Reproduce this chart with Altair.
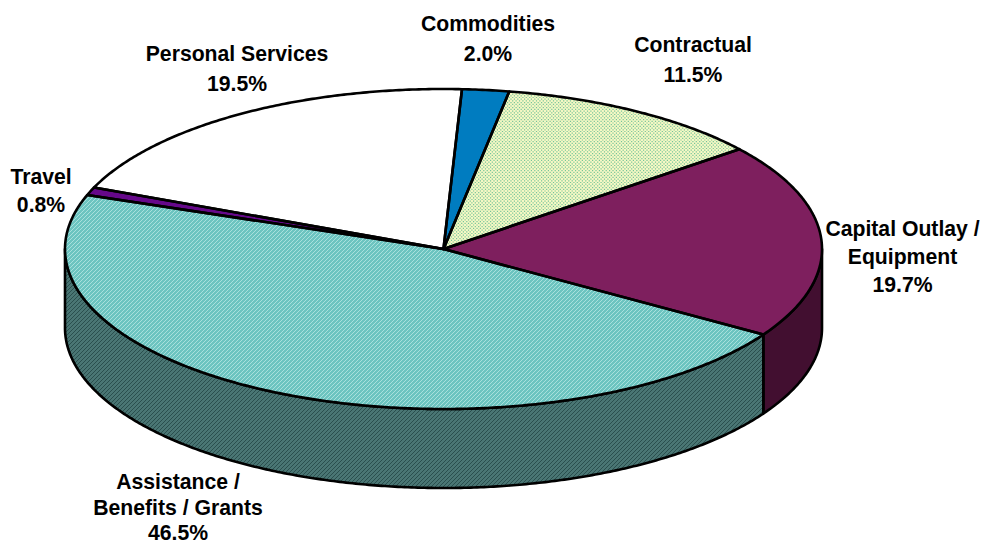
import math
import altair as alt

categories = ["Commodities", "Contractual", "Capital Outlay / Equipment",
              "Assistance / Benefits / Grants", "Travel", "Personal Services"]
shares = [2.0, 11.5, 19.7, 46.5, 0.8, 19.5]
label_names = ["Commodities", "Contractual", "Capital Outlay /\nEquipment",
               "Assistance /\nBenefits / Grants", "Travel", "Personal Services"]
top_colors = ["#007CC0", "#F6F8C4", "#7E1F5E", "#6CC4C0", "#66088A", "#FFFFFF"]
side_colors = ["#003E60", "#77795A", "#420F30", "#4A7674", "#330445", "#808080"]

# layout (chart pixels: page pixels minus the 8px margin)
W, H = 973, 537
CX, CY, RX, RY, DEPTH = 435.5, 241, 378.5, 160, 79
START_DEG = 2.8
LABEL_POS = {
    "Personal Services": (229, 47, 30),
    "Commodities": (480, 17, 30),
    "Contractual": (685, 38, 30),
    "Capital Outlay / Equipment": (894.5, 222, 28),
    "Assistance / Benefits / Grants": (170, 475, 25.5),
    "Travel": (33, 170, 28),
}


def pt(deg, dy=0.0):
    r = math.radians(deg)
    return [CX + RX * math.sin(r), CY - RY * math.cos(r) + dy]


def arc(a, b, dy=0.0):
    n = max(2, int(abs(b - a) * 2))
    return [pt(a + (b - a) * i / n, dy) for i in range(n + 1)]


sides = []
tops = []
spans = {}
acc = START_DEG
for name, share, tc, sc in zip(categories, shares, top_colors, side_colors):
    a, b = acc, acc + share * 3.6
    acc = b
    spans[name] = (a, b)
    # visible outer wall: the part of the rim on the front half (90..270 deg)
    lo, hi = max(a, 90), min(b, 270)
    if lo < hi:
        ring = arc(lo, hi) + arc(hi, lo, DEPTH)
        ring.append(ring[0])
        sides.append({"type": "Feature", "geometry": {"type": "Polygon", "coordinates": [ring]},
                      "properties": {"key": name + " side", "color": sc}})
    ring = [[CX, CY]] + arc(a, b) + [[CX, CY]]
    tops.append({"type": "Feature", "geometry": {"type": "Polygon", "coordinates": [ring]},
                 "properties": {"key": name, "color": tc}})


def in_wedge(x, y, span):
    u, v = (x - CX) / RX, (CY - y) / RY
    if u * u + v * v > 1:
        return False
    t = math.degrees(math.atan2(u, v)) % 360
    return span[0] <= t <= span[1] or span[0] <= t + 360 <= span[1]


def in_wall(x, y, span):
    u = (x - CX) / RX
    if abs(u) > 1:
        return False
    rim = CY + RY * math.sqrt(1 - u * u)
    if not (rim <= y <= rim + DEPTH):
        return False
    t = (90 + math.degrees(math.acos(u))) % 360
    return span[0] <= t <= span[1]


def diagonal_hatch(test, span, step):
    """Texture: runs of 45-degree lines falling inside a region of the pie."""
    lines = []
    x0, x1 = int(CX - RX), int(CX + RX) + 1
    c = int(x0 + CY - RY)
    while c < x1 + CY + RY + DEPTH:
        run = []
        for x in range(x0, x1):
            y = c - x
            if test(x, y, span):
                run.append([x, y])
            elif run:
                lines.append([run[0], run[-1]])
                run = []
        if run:
            lines.append([run[0], run[-1]])
        c += step
    return lines


def dot_grid(test, span, step):
    dots = []
    row = 0
    y = CY - RY
    while y < CY + RY:
        x = CX - RX + (row % 2) * step / 2
        while x < CX + RX:
            if test(x, y, span):
                dots.append([[x, y], [x + 1.2, y]])
            x += step
        y += step / 2
        row += 1
    return dots


def shapes(feats, **mark):
    return (
        alt.Chart(alt.Data(values=feats))
        .mark_geoshape(**mark)
        .encode(fill=alt.Fill("properties.color:N", scale=None))
        .project(type="identity", scale=1, translate=[0, 0])
    )


def texture(lines, color, width):
    feat = [{"type": "Feature", "geometry": {"type": "MultiLineString", "coordinates": lines}, "properties": {}}]
    return (
        alt.Chart(alt.Data(values=feat))
        .mark_geoshape(filled=False, stroke=color, strokeWidth=width)
        .project(type="identity", scale=1, translate=[0, 0])
    )


def outlines(feats):
    return (
        alt.Chart(alt.Data(values=feats))
        .mark_geoshape(filled=False, stroke="black", strokeWidth=2.6, strokeJoin="round")
        .project(type="identity", scale=1, translate=[0, 0])
    )


ASSIST = "Assistance / Benefits / Grants"
layers = [
    shapes(sides, strokeWidth=0),
    texture(diagonal_hatch(in_wall, spans[ASSIST], 4), "#2A4F4E", 1),
    outlines(sides),
    shapes(tops, strokeWidth=0),
    texture(diagonal_hatch(in_wedge, spans[ASSIST], 4), "#A8E0DC", 1),
    texture(dot_grid(in_wedge, spans["Contractual"], 3.4), "#74C49A", 1.2),
    outlines(tops),
]
for name, lab, share in zip(categories, label_names, shares):
    x, y, lh = LABEL_POS[name]
    layers.append(
        alt.Chart(alt.Data(values=[{"t": f"{lab}\n{share:.1f}%"}]))
        .mark_text(font="Liberation Sans", fontWeight="bold", fontSize=21.2, color="black",
                   lineBreak="\n", lineHeight=lh, align="center", baseline="middle")
        .encode(text="t:N", x=alt.value(x), y=alt.value(y))
    )

chart = (
    alt.layer(*layers)
    .properties(width=W, height=H, padding=0, autosize=alt.AutoSizeParams(type="none"), background="white")
    .configure_view(stroke=None)
)
chart.save("out.html", embed_options={"renderer": "svg", "actions": False})
